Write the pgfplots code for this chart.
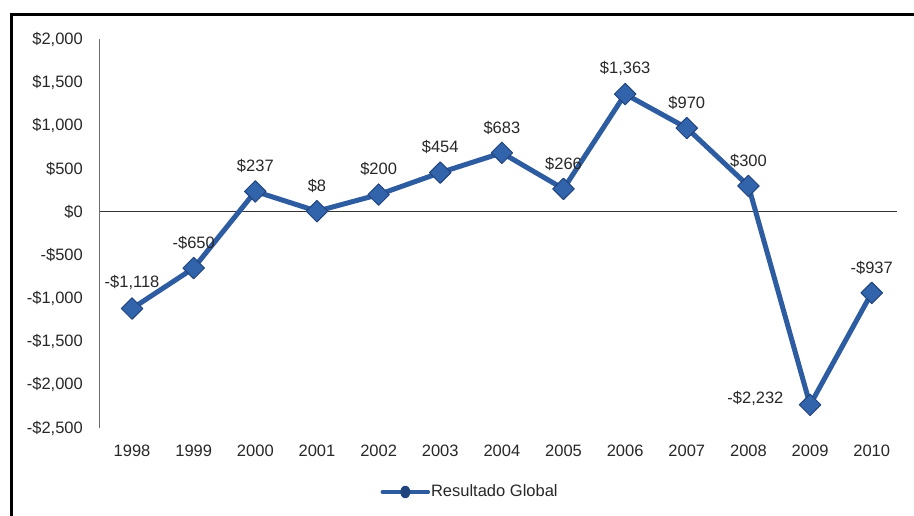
\documentclass[border=0pt]{standalone}
\usepackage{pgfplots}
\pgfplotsset{compat=1.18}
\usepackage{pgfplotstable}
\usepackage{fontspec}
\setmainfont{Liberation Sans}
\definecolor{serblue}{RGB}{46,92,160}
\definecolor{markfill}{RGB}{50,100,172}
\definecolor{markedge}{RGB}{34,68,125}
\definecolor{ticktext}{RGB}{40,40,40}

\pgfplotstableread{
x year value label
0  1998 -1118 {-\$1,118}
1  1999 -650  {-\$650}
2  2000 237   {\$237}
3  2001 8     {\$8}
4  2002 200   {\$200}
5  2003 454   {\$454}
6  2004 683   {\$683}
7  2005 266   {\$266}
8  2006 1363  {\$1,363}
9  2007 970   {\$970}
10 2008 300   {\$300}
11 2009 -2232 {-\$2,232}
12 2010 -937  {-\$937}
}\datatable

\pgfplotstableread{
x year value label
0  1998 -1118 {-\$1,118}
1  1999 -650  {-\$650}
2  2000 237   {\$237}
3  2001 8     {\$8}
4  2002 200   {\$200}
5  2003 454   {\$454}
6  2004 683   {\$683}
7  2005 266   {\$266}
8  2006 1363  {\$1,363}
9  2007 970   {\$970}
10 2008 300   {\$300}
12 2010 -937  {-\$937}
}\abovetable

\pgfplotstableread{
x year value label
11 2009 -2232 {-\$2,232}
}\lefttable

\begin{document}
\fontsize{16.5}{19}\selectfont
\begin{tikzpicture}[x=1pt,y=1pt]
\useasboundingbox (0,0) rectangle (914,515);
\fill[white] (0,0) rectangle (914,515);
\begin{axis}[
  at={(100pt,87pt)}, anchor=south west,
  scale only axis, width=797pt, height=389pt,
  xmin=-0.52, xmax=12.41,
  ymin=-2500, ymax=2000,
  axis y line=left, axis x line=bottom,
  x axis line style={draw=none},
  y axis line style={draw=gray!85!black, line width=1pt, -},
  major tick length=0pt,
  xtick={0,...,12},
  xticklabels={1998,1999,2000,2001,2002,2003,2004,2005,2006,2007,2008,2009,2010},
  ytick={-2500,-2000,-1500,-1000,-500,0,500,1000,1500,2000},
  yticklabels={{-\$2,500},{-\$2,000},{-\$1,500},{-\$1,000},{-\$500},{\$0},{\$500},{\$1,000},{\$1,500},{\$2,000}},
  tick label style={font=\fontsize{16.5}{19}\selectfont, text=ticktext},
  yticklabel style={xshift=-11.5pt},
  xticklabel style={yshift=-11pt},
  clip=false,
  legend style={draw=none, fill=none, at={(0.348,-0.1645)}, anchor=west,
    font=\fontsize{16.5}{19}\selectfont, text=ticktext,
    nodes={inner sep=1pt}},
  legend image code/.code={
    \draw[serblue, line width=3.5pt, line cap=round] (0pt,0pt) -- (46pt,0pt);
    \fill[markedge] (23pt,0pt) ellipse (2.5pt and 4pt);
  },
]
\draw[black!80, line width=1pt] (axis cs:-0.52,0) -- (axis cs:12.41,0);
\addplot[
  serblue, line width=5pt, line join=round,
  mark=square*, mark size=7.6pt,
  mark options={rotate=45, fill=markfill, draw=markedge, line width=1pt},
] table[x=x, y=value] {\datatable};
\addlegendentry{Resultado Global}
\addplot[forget plot, draw=none, mark=none,
  nodes near coords, point meta=explicit symbolic,
  every node near coord/.append style={anchor=south, yshift=13pt,
    font=\fontsize{16.5}{19}\selectfont, text=ticktext},
] table[x=x, y=value, meta=label] {\abovetable};
\addplot[forget plot, draw=none, mark=none,
  nodes near coords, point meta=explicit symbolic,
  every node near coord/.append style={anchor=east, xshift=-21pt, yshift=6pt,
    font=\fontsize{16.5}{19}\selectfont, text=ticktext},
] table[x=x, y=value, meta=label] {\lefttable};
\end{axis}
\draw[black, line width=3pt] (11.5,-10) -- (11.5,500.5) -- (930,500.5);
\end{tikzpicture}
\end{document}
